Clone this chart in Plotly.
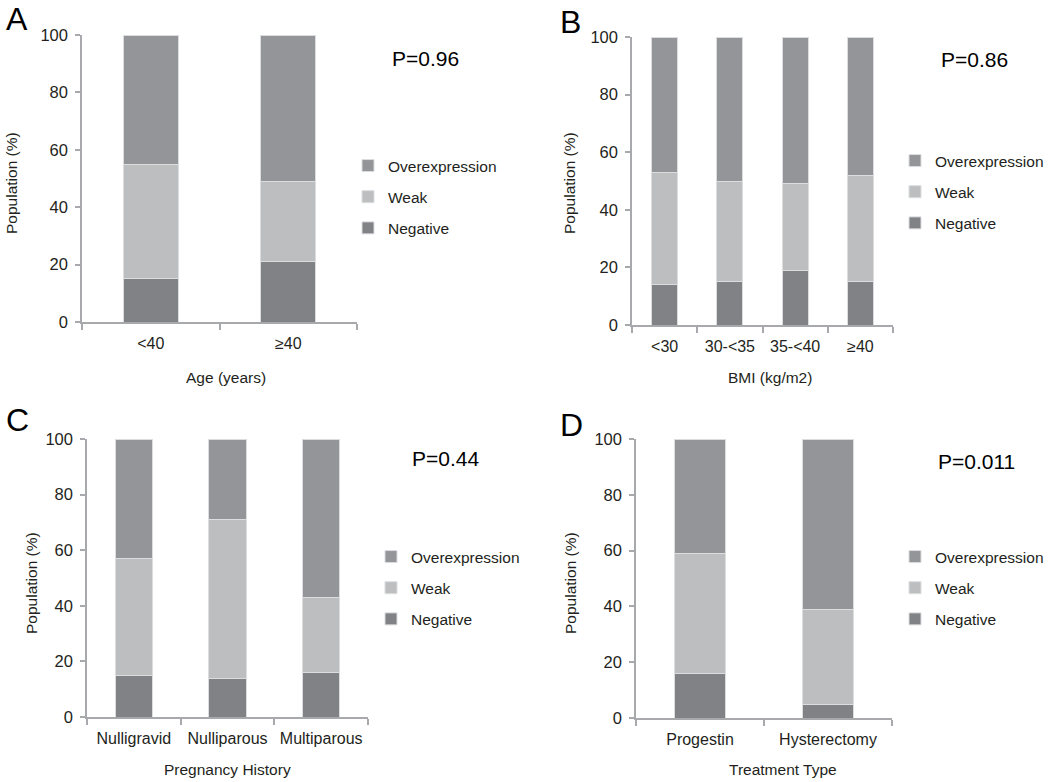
import plotly.graph_objects as go

# ---------------- data ----------------
series_names = ["Negative", "Weak", "Overexpression"]
legend_rank = {"Overexpression": 1, "Weak": 2, "Negative": 3}

age_cats = ["<40", "≥40"]
age_neg = [15, 21]
age_weak = [40, 28]
age_over = [45, 51]

bmi_cats = ["<30", "30-<35", "35-<40", "≥40"]
bmi_neg = [14, 15, 19, 15]
bmi_weak = [39, 35, 30, 37]
bmi_over = [47, 50, 51, 48]

preg_cats = ["Nulligravid", "Nulliparous", "Multiparous"]
preg_neg = [15, 14, 16]
preg_weak = [42, 57, 27]
preg_over = [43, 29, 57]

treat_cats = ["Progestin", "Hysterectomy"]
treat_neg = [16, 5]
treat_weak = [43, 34]
treat_over = [41, 61]

y_ticks = [0, 20, 40, 60, 80, 100]

# ---------------- style ----------------
W, H = 1050, 782
FONT = "Liberation Sans, Arial, Helvetica, sans-serif"
TXT = "#231f20"
AX = "#a7a9ac"
colors = {"Negative": "#808285", "Weak": "#bcbec0", "Overexpression": "#939598"}


def px(x):
    return x / W


def py(y):
    return 1 - y / H


panels = [
    dict(cats=age_cats, vals=[age_neg, age_weak, age_over], letter="A", p="P=0.96",
         xt="Age (years)",
         dom_x=(82, 357), dom_y=(35, 322),
         letter_xy=(4, 19), p_xy=(390, 58), yt_xy=(12, 183), xt_xy=(226, 377),
         leg_xy=(348, 149)),
    dict(cats=bmi_cats, vals=[bmi_neg, bmi_weak, bmi_over], letter="B", p="P=0.86",
         xt="BMI (kg/m2)",
         dom_x=(632, 893), dom_y=(37, 325),
         letter_xy=(558, 22), p_xy=(939, 59), yt_xy=(570, 183), xt_xy=(770, 377),
         leg_xy=(895, 144)),
    dict(cats=preg_cats, vals=[preg_neg, preg_weak, preg_over], letter="C", p="P=0.44",
         xt="Pregnancy History",
         dom_x=(87, 368), dom_y=(439, 717),
         letter_xy=(4, 420), p_xy=(410, 458), yt_xy=(31, 583), xt_xy=(227, 769),
         leg_xy=(371, 540)),
    dict(cats=treat_cats, vals=[treat_neg, treat_weak, treat_over], letter="D", p="P=0.011",
         xt="Treatment Type",
         dom_x=(636, 892), dom_y=(439, 718),
         letter_xy=(558, 425), p_xy=(936, 462), yt_xy=(570, 583), xt_xy=(783, 769),
         leg_xy=(895, 540)),
]

fig = go.Figure()
annotations = []
layout = {}

for i, p in enumerate(panels):
    n = "" if i == 0 else str(i + 1)
    xa, ya = "x" + n, "y" + n
    leg = "legend" + n
    for name, vals in zip(series_names, p["vals"]):
        fig.add_trace(go.Bar(
            x=p["cats"], y=vals, name=name, xaxis=xa, yaxis=ya,
            legend=leg, legendgroup=name + n, legendrank=legend_rank[name],
            marker=dict(color=colors[name], line=dict(color="#dcdddf", width=1)),
            width=0.4, hoverinfo="x+y+name",
        ))
    layout["xaxis" + n] = dict(
        domain=[px(p["dom_x"][0]), px(p["dom_x"][1])], anchor=ya,
        type="category", range=[-0.5, len(p["cats"]) - 0.5], automargin=False,
        showline=True, linecolor=AX, linewidth=1.5,
        ticks="outside", tickson="boundaries", ticklen=6, tickcolor=AX, tickwidth=1.5,
        showgrid=False, zeroline=False, fixedrange=True,
        tickfont=dict(family=FONT, size=16, color=TXT), ticklabelstandoff=6,
    )
    layout["yaxis" + n] = dict(
        domain=[py(p["dom_y"][1]), py(p["dom_y"][0])], anchor=xa,
        range=[0, 100], tickvals=y_ticks, automargin=False,
        showline=True, linecolor=AX, linewidth=1.5,
        ticks="outside", ticklen=5, tickcolor=AX, tickwidth=1.5,
        showgrid=False, zeroline=False, fixedrange=True,
        tickfont=dict(family=FONT, size=16.5, color=TXT), ticklabelstandoff=4,
    )
    layout[leg] = dict(
        x=px(p["leg_xy"][0]), y=py(p["leg_xy"][1]), xanchor="left", yanchor="top",
        traceorder="grouped", tracegroupgap=8,
        font=dict(family=FONT, size=15.5, color=TXT), bgcolor="rgba(0,0,0,0)",
        itemclick=False, itemdoubleclick=False,
    )
    annotations += [
        dict(text=p["letter"], x=px(p["letter_xy"][0]), y=py(p["letter_xy"][1]),
             xref="paper", yref="paper", xanchor="left", yanchor="middle",
             showarrow=False, font=dict(family=FONT, size=32, color="#000")),
        dict(text=p["p"], x=px(p["p_xy"][0]), y=py(p["p_xy"][1]),
             xref="paper", yref="paper", xanchor="left", yanchor="middle",
             showarrow=False, font=dict(family=FONT, size=21, color="#000")),
        dict(text="Population (%)", x=px(p["yt_xy"][0]), y=py(p["yt_xy"][1]),
             xref="paper", yref="paper", xanchor="center", yanchor="middle",
             textangle=-90, showarrow=False, font=dict(family=FONT, size=15.5, color=TXT)),
        dict(text=p["xt"], x=px(p["xt_xy"][0]), y=py(p["xt_xy"][1]),
             xref="paper", yref="paper", xanchor="center", yanchor="middle",
             showarrow=False, font=dict(family=FONT, size=15.5, color=TXT)),
    ]

fig.update_layout(
    width=W, height=H, margin=dict(l=0, r=0, t=0, b=0, autoexpand=False),
    paper_bgcolor="white", plot_bgcolor="white",
    barmode="stack", bargap=0.6, showlegend=True,
    annotations=annotations, **layout,
)

fig.write_html(
    "out.html",
    config={"displayModeBar": False},
    post_script="document.body.style.margin='0';document.body.style.overflow='hidden';",
)
